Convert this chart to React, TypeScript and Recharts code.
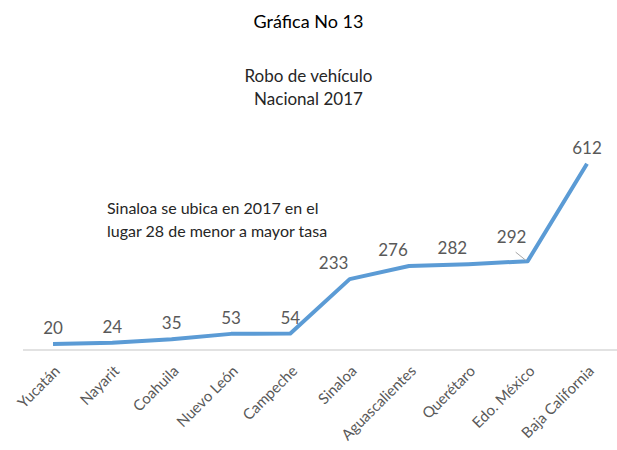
import { LineChart, Line, XAxis, YAxis, LabelList } from "recharts";

const estados = [
  "Yucatán",
  "Nayarit",
  "Coahuila",
  "Nuevo León",
  "Campeche",
  "Sinaloa",
  "Aguascalientes",
  "Querétaro",
  "Edo. México",
  "Baja California",
];
const tasas = [20, 24, 35, 53, 54, 233, 276, 282, 292, 612];

const data = estados.map((estado, i) => ({ estado, tasa: tasas[i] }));

const FONT = "Lato, 'Open Sans', sans-serif";
const GRAY = "#595959";

function EstadoTick(props: any) {
  const { x, y, payload } = props;
  return (
    <g transform={`translate(${x + 8},${y + 14})`}>
      <text
        textAnchor="end"
        transform="rotate(-45)"
        fontSize={15}
        fill={GRAY}
        fontFamily={FONT}
      >
        {payload.value}
      </text>
    </g>
  );
}

function ValorLabel(props: any) {
  const { x, y, value, index } = props;
  // Excel dejó algunas etiquetas corridas a la izquierda
  const dx = index >= 5 && index <= 8 ? -16 : 0;
  const dy = index === 8 ? -18 : -10;
  return (
    <g>
      {index === 8 && (
        <line x1={x - 12} y1={y - 9} x2={x - 2} y2={y - 1} stroke="#a6a6a6" strokeWidth={1} />
      )}
      <text
        x={x + dx}
        y={y + dy}
        textAnchor="middle"
        fontSize={17}
        fill={GRAY}
        fontFamily={FONT}
      >
        {value}
      </text>
    </g>
  );
}

export default function App() {
  return (
    <div
      style={{
        position: "absolute",
        left: 0,
        top: 0,
        width: 617,
        height: 450,
        background: "#fff",
        fontFamily: FONT,
      }}
    >
      <div style={{ position: "absolute", top: 10, width: 617, textAlign: "center", fontSize: 18, color: "#000" }}>
        Gráfica No 13
      </div>
      <div
        style={{
          position: "absolute",
          top: 64,
          width: 617,
          textAlign: "center",
          fontSize: 17,
          lineHeight: "23px",
          color: "#262626",
        }}
      >
        Robo de vehículo
        <br />
        Nacional 2017
      </div>
      <div
        style={{
          position: "absolute",
          top: 196,
          left: 107,
          fontSize: 16,
          lineHeight: "23px",
          color: "#262626",
        }}
      >
        Sinaloa se ubica en 2017 en el
        <br />
        lugar 28 de menor a mayor tasa
      </div>
      <LineChart
        width={617}
        height={450}
        data={data}
        margin={{ top: 137, right: 0, bottom: 0, left: 23 }}
      >
        <XAxis
          dataKey="estado"
          height={100}
          interval={0}
          padding={{ left: 30, right: 30 }}
          tickLine={false}
          axisLine={{ stroke: "#d9d9d9", strokeWidth: 1.5 }}
          tick={<EstadoTick />}
        />
        <YAxis hide domain={[0, 700]} />
        <Line
          dataKey="tasa"
          stroke="#5b9bd5"
          strokeWidth={4}
          dot={false}
          strokeLinejoin="round"
          isAnimationActive={false}
        >
          <LabelList dataKey="tasa" content={<ValorLabel />} />
        </Line>
      </LineChart>
    </div>
  );
}
